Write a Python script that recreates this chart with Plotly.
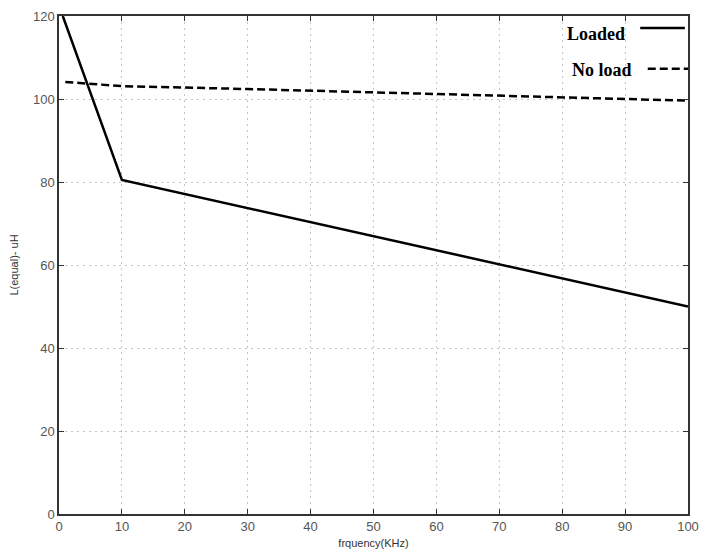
import plotly.graph_objects as go

loaded_x = [0.6, 10, 100]
loaded_y = [120, 80.5, 50]
noload_x = [1, 10, 30, 50, 70, 100]
noload_y = [104.1, 103.1, 102.4, 101.6, 100.7, 99.6]

x_ticks = list(range(0, 101, 10))
y_ticks = list(range(0, 121, 20))

fig = go.Figure()
fig.add_trace(go.Scatter(x=loaded_x, y=loaded_y, mode="lines", name="Loaded",
                         line=dict(color="black", width=2.5)))
fig.add_trace(go.Scatter(x=noload_x, y=noload_y, mode="lines", name="No load",
                         line=dict(color="black", width=2.5, dash="8px,4px")))

axis_common = dict(showline=True, linecolor="#333", linewidth=1.5, mirror="ticks",
                   ticks="inside", ticklen=5, tickcolor="#333", automargin=False,
                   showgrid=True, gridcolor="#c4c4c4", griddash="2px,4px", gridwidth=1,
                   zeroline=False, tickfont=dict(family="Liberation Sans, Arial", size=13, color="#555"))

fig.update_xaxes(range=[0, 100], tickvals=x_ticks, title=dict(text="frquency(KHz)", standoff=6,
                 font=dict(family="Liberation Sans, Arial", size=11, color="#333")), **axis_common)
fig.update_yaxes(range=[0, 120], tickvals=y_ticks, title=dict(text="L(equal)- uH", standoff=12,
                 font=dict(family="Liberation Sans, Arial", size=11, color="#333")), **axis_common)

legend_font = dict(family="Liberation Serif, Times New Roman", size=18, color="black")
fig.add_annotation(x=0.903, y=0.964, xref="paper", yref="paper", text="<b>Loaded</b>",
                   showarrow=False, xanchor="right", yanchor="middle", font=legend_font)
fig.add_annotation(x=0.914, y=0.892, xref="paper", yref="paper", text="<b>No load</b>",
                   showarrow=False, xanchor="right", yanchor="middle", font=legend_font)
fig.add_shape(type="line", xref="paper", yref="paper", x0=0.924, x1=0.995, y0=0.976, y1=0.976,
              line=dict(color="black", width=2.5))
fig.add_shape(type="line", xref="paper", yref="paper", x0=0.936, x1=1.0, y0=0.894, y1=0.894,
              line=dict(color="black", width=2.5, dash="8px,4px"))

fig.update_layout(width=702, height=551, margin=dict(l=59, r=14, t=16, b=37, autoexpand=False),
                  plot_bgcolor="white", paper_bgcolor="white", showlegend=False)

fig.write_html("out.html")
